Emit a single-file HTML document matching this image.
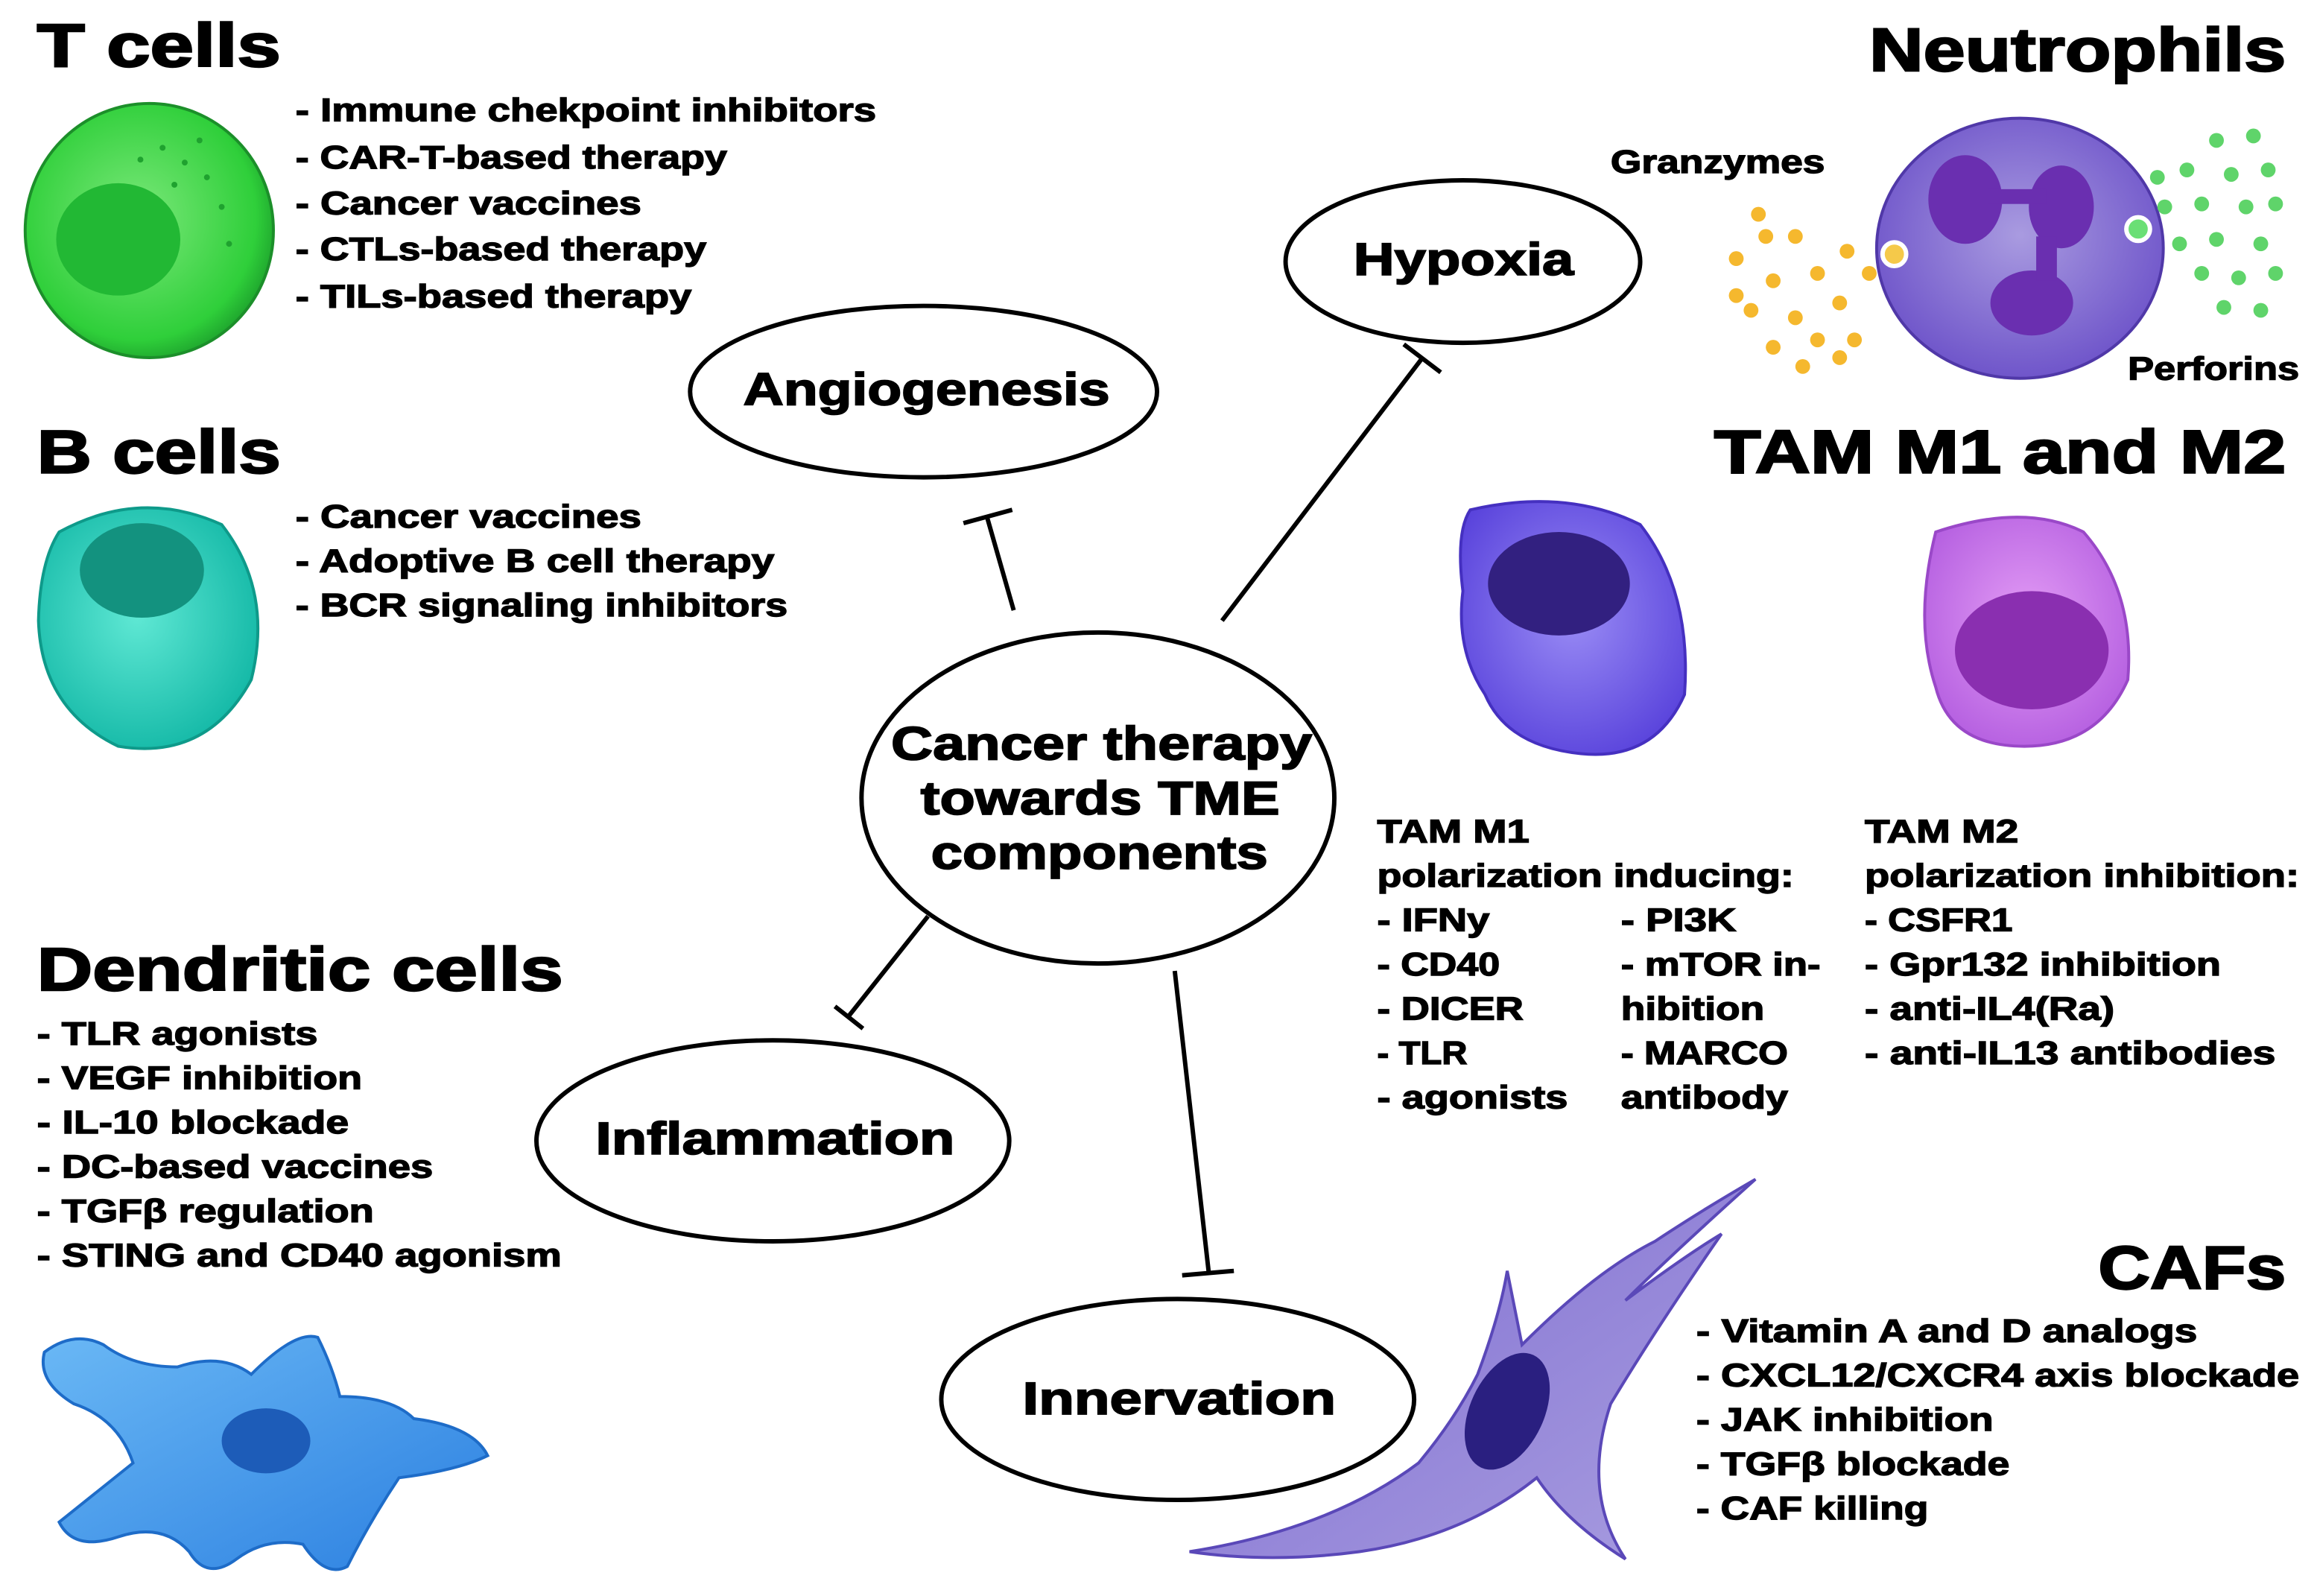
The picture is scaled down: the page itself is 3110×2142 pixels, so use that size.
<!DOCTYPE html>
<html><head><meta charset="utf-8"><style>
html,body{margin:0;padding:0;background:#fff;}
svg{display:block;}
text{font-family:"Liberation Sans",Arial,sans-serif;font-weight:bold;fill:#000;stroke:#000;}
.t{font-size:41px;stroke-width:1.2px;}
.l{font-size:22px;stroke-width:0.7px;}
.e{font-size:31px;stroke-width:0.9px;}
</style></head><body>
<svg width="3110" height="2142" viewBox="0 0 1568 1080" xmlns="http://www.w3.org/2000/svg">
<defs>
<radialGradient id="gT" cx="0.45" cy="0.45" r="0.6"><stop offset="0" stop-color="#7be87a"/><stop offset="0.8" stop-color="#2fcf3a"/><stop offset="1" stop-color="#1a9a2a"/></radialGradient>
<radialGradient id="gB" cx="0.45" cy="0.45" r="0.6"><stop offset="0" stop-color="#5fe8d4"/><stop offset="1" stop-color="#13b8a6"/></radialGradient>
<radialGradient id="gN" cx="0.5" cy="0.45" r="0.6"><stop offset="0" stop-color="#a99be0"/><stop offset="1" stop-color="#6a4fc8"/></radialGradient>
<radialGradient id="gM1" cx="0.5" cy="0.45" r="0.6"><stop offset="0" stop-color="#9a8cf5"/><stop offset="1" stop-color="#5a44dc"/></radialGradient>
<radialGradient id="gM2" cx="0.5" cy="0.45" r="0.6"><stop offset="0" stop-color="#e39cf5"/><stop offset="1" stop-color="#b45ee0"/></radialGradient>
<linearGradient id="gD" x1="0" y1="0" x2="1" y2="1"><stop offset="0" stop-color="#6ab8f5"/><stop offset="1" stop-color="#2b7fe0"/></linearGradient>
<linearGradient id="gC" x1="0" y1="0" x2="1" y2="1"><stop offset="0" stop-color="#7d6bd0"/><stop offset="1" stop-color="#a99ee0"/></linearGradient>
</defs>

<!-- T cells -->
<text class="t" x="25" y="45" textLength="165" lengthAdjust="spacingAndGlyphs">T cells</text>
<ellipse cx="101" cy="156" rx="84" ry="86" fill="url(#gT)" stroke="#1c8f2a" stroke-width="2"/>
<ellipse cx="80" cy="162" rx="42" ry="38" fill="#22b834"/>
<g fill="#1fa22f"><circle cx="110" cy="100" r="2"/><circle cx="125" cy="110" r="2"/><circle cx="140" cy="120" r="2"/><circle cx="95" cy="108" r="2"/><circle cx="150" cy="140" r="2"/><circle cx="135" cy="95" r="2"/><circle cx="155" cy="165" r="2"/><circle cx="118" cy="125" r="2"/></g>
<text class="l" x="200" y="82" textLength="393" lengthAdjust="spacingAndGlyphs">- Immune chekpoint inhibitors</text>
<text class="l" x="200" y="114" textLength="292" lengthAdjust="spacingAndGlyphs">- CAR-T-based therapy</text>
<text class="l" x="200" y="145" textLength="234" lengthAdjust="spacingAndGlyphs">- Cancer vaccines</text>
<text class="l" x="200" y="176" textLength="278" lengthAdjust="spacingAndGlyphs">- CTLs-based therapy</text>
<text class="l" x="200" y="208" textLength="268" lengthAdjust="spacingAndGlyphs">- TILs-based therapy</text>

<!-- B cells -->
<text class="t" x="25" y="320" textLength="165" lengthAdjust="spacingAndGlyphs">B cells</text>
<path d="M40,360 Q95,330 150,355 Q185,400 170,460 Q140,515 80,505 Q28,480 26,420 Q27,380 40,360Z" fill="url(#gB)" stroke="#0e9a8a" stroke-width="2"/>
<ellipse cx="96" cy="386" rx="42" ry="32" fill="#13927f"/>
<text class="l" x="200" y="357" textLength="234" lengthAdjust="spacingAndGlyphs">- Cancer vaccines</text>
<text class="l" x="200" y="387" textLength="324" lengthAdjust="spacingAndGlyphs">- Adoptive B cell therapy</text>
<text class="l" x="200" y="417" textLength="333" lengthAdjust="spacingAndGlyphs">- BCR signaling inhibitors</text>

<!-- Dendritic -->
<text class="t" x="25" y="670" textLength="356" lengthAdjust="spacingAndGlyphs">Dendritic cells</text>
<text class="l" x="25" y="707" textLength="190" lengthAdjust="spacingAndGlyphs">- TLR agonists</text>
<text class="l" x="25" y="737" textLength="220" lengthAdjust="spacingAndGlyphs">- VEGF inhibition</text>
<text class="l" x="25" y="767" textLength="211" lengthAdjust="spacingAndGlyphs">- IL-10 blockade</text>
<text class="l" x="25" y="797" textLength="268" lengthAdjust="spacingAndGlyphs">- DC-based vaccines</text>
<text class="l" x="25" y="827" textLength="228" lengthAdjust="spacingAndGlyphs">- TGFβ regulation</text>
<text class="l" x="25" y="857" textLength="355" lengthAdjust="spacingAndGlyphs">- STING and CD40 agonism</text>
<path d="M30,915 Q50,900 70,910 Q90,925 120,925 Q150,915 170,930 Q200,900 215,905 Q225,925 230,945 Q265,945 280,960 Q320,965 330,985 Q310,995 270,1000 Q250,1030 235,1060 Q220,1068 205,1045 Q180,1040 160,1055 Q140,1070 128,1050 Q110,1030 80,1040 Q50,1050 40,1030 Q65,1010 90,990 Q80,960 50,950 Q25,935 30,915Z" fill="url(#gD)" stroke="#1e6cc8" stroke-width="2"/>
<ellipse cx="180" cy="975" rx="30" ry="22" fill="#1d5cb8"/>

<!-- Ellipses -->
<ellipse cx="625" cy="265" rx="158" ry="58" fill="#fff" stroke="#000" stroke-width="3"/>
<text class="e" x="503" y="274" textLength="248" lengthAdjust="spacingAndGlyphs">Angiogenesis</text>
<ellipse cx="990" cy="177" rx="120" ry="55" fill="#fff" stroke="#000" stroke-width="3"/>
<text class="e" x="916" y="186" textLength="149" lengthAdjust="spacingAndGlyphs">Hypoxia</text>
<ellipse cx="743" cy="540" rx="160" ry="112" fill="#fff" stroke="#000" stroke-width="3"/>
<text class="e" x="603" y="514" textLength="285" lengthAdjust="spacingAndGlyphs" style="font-size:32px">Cancer therapy</text>
<text class="e" x="623" y="551" textLength="243" lengthAdjust="spacingAndGlyphs" style="font-size:32px">towards TME</text>
<text class="e" x="630" y="588" textLength="228" lengthAdjust="spacingAndGlyphs" style="font-size:32px">components</text>
<ellipse cx="523" cy="772" rx="160" ry="68" fill="#fff" stroke="#000" stroke-width="3"/>
<text class="e" x="403" y="781" textLength="243" lengthAdjust="spacingAndGlyphs">Inflammation</text>
<ellipse cx="797" cy="947" rx="160" ry="68" fill="#fff" stroke="#000" stroke-width="3"/>
<text class="e" x="692" y="957" textLength="212" lengthAdjust="spacingAndGlyphs">Innervation</text>

<!-- Connectors -->
<g stroke="#000" stroke-width="3" fill="none">
<line x1="686" y1="413" x2="668" y2="350"/><line x1="652" y1="354" x2="685" y2="345"/>
<line x1="827" y1="420" x2="962" y2="243"/><line x1="950" y1="233" x2="975" y2="252"/>
<line x1="628" y1="620" x2="574" y2="688"/><line x1="565" y1="681" x2="584" y2="696"/>
<line x1="795" y1="657" x2="818" y2="861"/><line x1="800" y1="863" x2="835" y2="860"/>
</g>

<!-- Neutrophils -->
<text class="t" x="1265" y="48" textLength="282" lengthAdjust="spacingAndGlyphs">Neutrophils</text>
<text class="l" x="1090" y="117" textLength="145" lengthAdjust="spacingAndGlyphs">Granzymes</text>
<text class="l" x="1440" y="257" textLength="116" lengthAdjust="spacingAndGlyphs">Perforins</text>
<ellipse cx="1367" cy="168" rx="97" ry="88" fill="url(#gN)" stroke="#5038a8" stroke-width="2"/>
<g fill="#6a2fb0"><ellipse cx="1330" cy="135" rx="25" ry="30"/><ellipse cx="1395" cy="140" rx="22" ry="28"/><ellipse cx="1375" cy="205" rx="28" ry="22"/><rect x="1345" y="128" width="40" height="10"/><rect x="1378" y="160" width="14" height="30"/></g>
<circle cx="1282" cy="172" r="8" fill="#f5c94a" stroke="#fff" stroke-width="3"/>
<circle cx="1447" cy="155" r="8" fill="#6adf75" stroke="#fff" stroke-width="3"/>
<g fill="#f5b82e">
<circle cx="1190" cy="145" r="5"/><circle cx="1215" cy="160" r="5"/><circle cx="1175" cy="175" r="5"/><circle cx="1200" cy="190" r="5"/><circle cx="1230" cy="185" r="5"/><circle cx="1250" cy="170" r="5"/><circle cx="1185" cy="210" r="5"/><circle cx="1215" cy="215" r="5"/><circle cx="1245" cy="205" r="5"/><circle cx="1265" cy="185" r="5"/><circle cx="1200" cy="235" r="5"/><circle cx="1230" cy="230" r="5"/><circle cx="1255" cy="230" r="5"/><circle cx="1220" cy="248" r="5"/><circle cx="1245" cy="242" r="5"/><circle cx="1175" cy="200" r="5"/><circle cx="1195" cy="160" r="5"/></g>
<g fill="#5fd46a">
<circle cx="1500" cy="95" r="5"/><circle cx="1525" cy="92" r="5"/><circle cx="1480" cy="115" r="5"/><circle cx="1510" cy="118" r="5"/><circle cx="1535" cy="115" r="5"/><circle cx="1465" cy="140" r="5"/><circle cx="1490" cy="138" r="5"/><circle cx="1520" cy="140" r="5"/><circle cx="1540" cy="138" r="5"/><circle cx="1475" cy="165" r="5"/><circle cx="1500" cy="162" r="5"/><circle cx="1530" cy="165" r="5"/><circle cx="1490" cy="185" r="5"/><circle cx="1515" cy="188" r="5"/><circle cx="1540" cy="185" r="5"/><circle cx="1505" cy="208" r="5"/><circle cx="1530" cy="210" r="5"/><circle cx="1460" cy="120" r="5"/></g>

<!-- TAM -->
<text class="t" x="1160" y="320" textLength="387" lengthAdjust="spacingAndGlyphs">TAM M1 and M2</text>
<path d="M995,345 Q1060,330 1110,355 Q1145,400 1140,470 Q1120,515 1070,510 Q1020,505 1005,470 Q985,440 990,400 Q985,360 995,345Z" fill="url(#gM1)" stroke="#4530c0" stroke-width="2"/>
<ellipse cx="1055" cy="395" rx="48" ry="35" fill="#322080"/>
<path d="M1310,360 Q1370,340 1410,360 Q1445,400 1440,460 Q1420,505 1370,505 Q1320,505 1310,465 Q1295,420 1310,360Z" fill="url(#gM2)" stroke="#9a48c8" stroke-width="2"/>
<ellipse cx="1375" cy="440" rx="52" ry="40" fill="#8a2fb0"/>
<text class="l" x="932" y="570" textLength="103" lengthAdjust="spacingAndGlyphs">TAM M1</text>
<text class="l" x="932" y="600" textLength="282" lengthAdjust="spacingAndGlyphs">polarization inducing:</text>
<text class="l" x="932" y="630" textLength="76" lengthAdjust="spacingAndGlyphs">- IFNy</text>
<text class="l" x="932" y="660" textLength="83" lengthAdjust="spacingAndGlyphs">- CD40</text>
<text class="l" x="932" y="690" textLength="99" lengthAdjust="spacingAndGlyphs">- DICER</text>
<text class="l" x="932" y="720" textLength="61" lengthAdjust="spacingAndGlyphs">- TLR</text>
<text class="l" x="932" y="750" textLength="129" lengthAdjust="spacingAndGlyphs">- agonists</text>
<text class="l" x="1097" y="630" textLength="78" lengthAdjust="spacingAndGlyphs">- PI3K</text>
<text class="l" x="1097" y="660" textLength="135" lengthAdjust="spacingAndGlyphs">- mTOR in-</text>
<text class="l" x="1097" y="690" textLength="97" lengthAdjust="spacingAndGlyphs">hibition</text>
<text class="l" x="1097" y="720" textLength="113" lengthAdjust="spacingAndGlyphs">- MARCO</text>
<text class="l" x="1097" y="750" textLength="113" lengthAdjust="spacingAndGlyphs">antibody</text>
<text class="l" x="1262" y="570" textLength="104" lengthAdjust="spacingAndGlyphs">TAM M2</text>
<text class="l" x="1262" y="600" textLength="294" lengthAdjust="spacingAndGlyphs">polarization inhibition:</text>
<text class="l" x="1262" y="630" textLength="100" lengthAdjust="spacingAndGlyphs">- CSFR1</text>
<text class="l" x="1262" y="660" textLength="241" lengthAdjust="spacingAndGlyphs">- Gpr132 inhibition</text>
<text class="l" x="1262" y="690" textLength="169" lengthAdjust="spacingAndGlyphs">- anti-IL4(Ra)</text>
<text class="l" x="1262" y="720" textLength="278" lengthAdjust="spacingAndGlyphs">- anti-IL13 antibodies</text>

<!-- CAFs -->
<text class="t" x="1420" y="872" textLength="127" lengthAdjust="spacingAndGlyphs">CAFs</text>
<text class="l" x="1148" y="908" textLength="339" lengthAdjust="spacingAndGlyphs">- Vitamin A and D analogs</text>
<text class="l" x="1148" y="938" textLength="408" lengthAdjust="spacingAndGlyphs">- CXCL12/CXCR4 axis blockade</text>
<text class="l" x="1148" y="968" textLength="201" lengthAdjust="spacingAndGlyphs">- JAK inhibition</text>
<text class="l" x="1148" y="998" textLength="212" lengthAdjust="spacingAndGlyphs">- TGFβ blockade</text>
<text class="l" x="1148" y="1028" textLength="157" lengthAdjust="spacingAndGlyphs">- CAF killing</text>
<path d="M805,1050 Q900,1035 960,990 Q985,960 1000,930 Q1015,890 1020,860 L1030,910 Q1080,860 1120,840 Q1150,820 1188,798 Q1130,850 1100,880 Q1140,850 1165,835 Q1120,900 1090,950 Q1070,1010 1100,1055 Q1060,1030 1040,1000 Q990,1040 920,1050 Q860,1058 805,1050Z" fill="url(#gC)" stroke="#5a48b8" stroke-width="2"/>
<ellipse cx="1020" cy="955" rx="25" ry="42" transform="rotate(25 1020 955)" fill="#2a1f80"/>
</svg>
</body></html>
